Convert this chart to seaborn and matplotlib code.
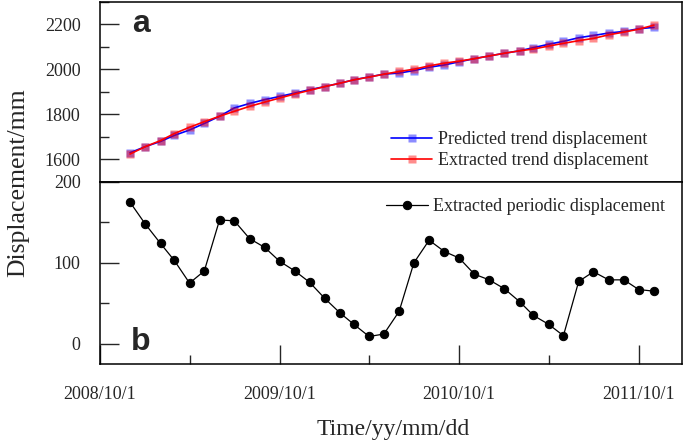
"""
Trend / periodic displacement decomposition chart
"""

import numpy as np
import pandas as pd
import matplotlib
matplotlib.use("Agg")
import matplotlib.pyplot as plt
from matplotlib.ticker import MultipleLocator
import seaborn as sns

# ---------- data ----------
dates = pd.date_range("2008-12-01", periods=36, freq="MS")

predicted_trend = [1630, 1657, 1680, 1707, 1731, 1760, 1792, 1829, 1849, 1866,
                   1880, 1895, 1910, 1924, 1939, 1954, 1967, 1979, 1984, 1995,
                   2010, 2020, 2034, 2048, 2060, 2072, 2083, 2097, 2112, 2125,
                   2141, 2151, 2162, 2169, 2181, 2187]

extracted_trend = [1624, 1657, 1684, 1715, 1743, 1768, 1792, 1814, 1836, 1855,
                   1873, 1891, 1907, 1924, 1939, 1954, 1966, 1979, 1991, 2001,
                   2016, 2028, 2037, 2048, 2060, 2072, 2083, 2091, 2104, 2116,
                   2128, 2138, 2154, 2166, 2179, 2197]

periodic = [175, 148, 124, 103, 75, 90, 153, 152, 130, 119,
            102, 90, 76, 56, 38, 24, 9, 12, 40, 100,
            128, 114, 106, 86, 79, 68, 52, 35, 24, 10,
            77, 89, 79, 79, 67, 65]

major_ticks = ["2008-10-01", "2009-10-01", "2010-10-01", "2011-10-01"]
major_labels = ["2008/10/1", "2009/10/1", "2010/10/1", "2011/10/1"]
minor_ticks = ["2009-04-01", "2010-04-01", "2011-04-01"]

# ---------- style ----------
sns.set_style("ticks")
plt.rcParams['font.family'] = ['Liberation Serif', 'DejaVu Serif']
plt.rcParams['axes.linewidth'] = 1.1

fig = plt.figure(figsize=(6.85, 4.46), dpi=100)
ax_top = fig.add_axes([0.146, 0.592, 0.8496, 0.4036])
ax_bot = fig.add_axes([0.146, 0.1839, 0.8496, 0.4081], sharex=ax_top)

# ---------- panel a ----------
sns.lineplot(x=dates, y=predicted_trend, ax=ax_top, color='#0000ff', lw=1.2,
             marker='s', markersize=5.5, markerfacecolor=(0, 0, 1, 0.45),
             markeredgecolor=(0, 0, 1, 0.0), label='Predicted trend displacement')
sns.lineplot(x=dates, y=extracted_trend, ax=ax_top, color='#ff0000', lw=1.2,
             marker='s', markersize=5.5, markerfacecolor=(1, 0, 0, 0.45),
             markeredgecolor=(1, 0, 0, 0.0), label='Extracted trend displacement')

ax_top.set_ylim(1500, 2300)
ax_top.set_yticks([1600, 1800, 2000, 2200])
ax_top.yaxis.set_minor_locator(MultipleLocator(100))
ax_top.tick_params(axis='x', which='both', bottom=False, labelbottom=False)
ax_top.tick_params(axis='y', which='major', direction='in', length=13.5,
                   width=1.0, pad=14, labelsize=13)
ax_top.tick_params(axis='y', which='minor', direction='in', length=6.5, width=1.0)
ax_top.legend(loc='lower right', bbox_to_anchor=(0.942, 0.07), frameon=False,
              fontsize=13, handlelength=2.3, handletextpad=0.3,
              labelspacing=0.25, borderpad=0, borderaxespad=0)
ax_top.text(0.07, 0.88, 'a', transform=ax_top.transAxes, ha='center', va='center',
            fontsize=23, fontweight='bold', family=['Liberation Sans', 'DejaVu Sans'])

# ---------- panel b ----------
sns.lineplot(x=dates, y=periodic, ax=ax_bot, color='black', lw=0.9,
             marker='o', markersize=6, markeredgecolor='black',
             label='Extracted periodic displacement')

ax_bot.set_ylim(-25, 200)
ax_bot.set_yticks([0, 100, 200])
ax_bot.yaxis.set_minor_locator(MultipleLocator(50))
ax_bot.set_xlim(pd.Timestamp("2008-10-01"), pd.Timestamp("2011-12-28"))
ax_bot.set_xticks(pd.to_datetime(major_ticks))
ax_bot.set_xticklabels(major_labels)
ax_bot.set_xticks(pd.to_datetime(minor_ticks), minor=True)
ax_bot.tick_params(axis='both', which='major', direction='in', length=13.5,
                   width=1.0, labelsize=13)
ax_bot.tick_params(axis='y', which='major', pad=14)
ax_bot.tick_params(axis='x', which='major', pad=16)
ax_bot.tick_params(axis='both', which='minor', direction='in', length=6.5, width=1.0)
ax_bot.legend(loc='upper right', bbox_to_anchor=(0.971, 0.91), frameon=False,
              fontsize=13, handlelength=2.3, handletextpad=0.3,
              borderpad=0, borderaxespad=0)
ax_bot.text(0.07, 0.12, 'b', transform=ax_bot.transAxes, ha='center', va='center',
            fontsize=23, fontweight='bold', family=['Liberation Sans', 'DejaVu Sans'])

for ax in (ax_top, ax_bot):
    ax.set_xlabel('')
    ax.set_ylabel('')
    for sp in ax.spines.values():
        sp.set_visible(True)
        sp.set_color('black')

fig.text(0.026, 0.59, 'Displacement/mm', rotation=90, ha='center', va='center',
         fontsize=18.5)
fig.text(0.574, 0.036, 'Time/yy/mm/dd', ha='center', va='center', fontsize=17)

fig.savefig('out.png', dpi=100)
